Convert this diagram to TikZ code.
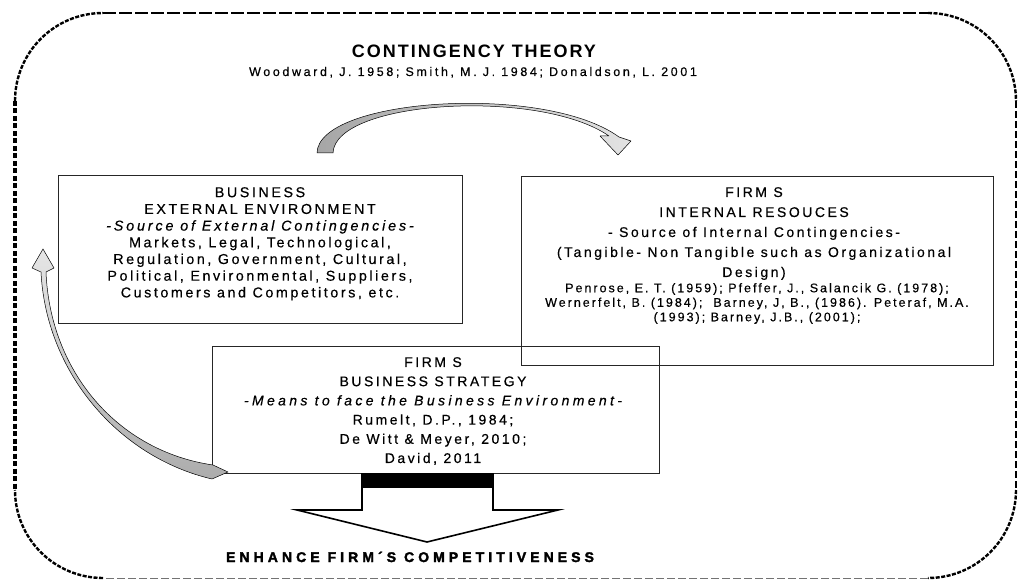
\documentclass[tikz,border=0pt]{standalone}
\usepackage{fontspec}
\setmainfont{Liberation Sans}
\newfontfamily\bxfont{Liberation Sans}[LetterSpace=18, FakeBold=0.4]
\newfontfamily\reffont{Liberation Sans}[LetterSpace=16, FakeBold=0.4]
\newfontfamily\titlefont{Liberation Sans}[LetterSpace=11]
\newfontfamily\goalfont{Liberation Sans}[LetterSpace=29, BoldFeatures={FakeBold=2.2}]
\begin{document}
\begin{tikzpicture}[x=1pt, y=-1pt,
  box/.style={draw=black!85, line width=0.9pt, inner sep=0pt, anchor=north west},
  boxtext/.style={inner sep=0pt, anchor=north, align=center},
  bend arrow/.style={draw=black, line width=0.5pt, line join=round},
  frame heavy/.style={line width=3.6pt, dash pattern=on 5pt off 2.5pt},
  frame top/.style={line width=2.4pt, dash pattern=on 13pt off 3pt},
  frame corner/.style={line width=2.4pt, dash pattern=on 4pt off 1.5pt},
  frame light/.style={line width=1.3pt, dash pattern=on 7pt off 3pt},
  frame faint/.style={line width=1pt, draw=black!55, dash pattern=on 8pt off 3pt},
]
\useasboundingbox (0,0) rectangle (1021,580);

% rounded dashed frame, each side with its own dash weight
\draw[frame corner] (15,101) .. controls (15,52.4) and (54.4,13) .. (103,13);
\draw[frame top] (103,13) -- (928,13);
\draw[frame corner] (928,13) .. controls (976.6,13) and (1016,52.4) .. (1016,101);
\draw[frame light] (1016,101) -- (1016,490);
\draw[frame corner] (1016,490) .. controls (1016,538.6) and (976.6,578) .. (928,578);
\draw[frame faint] (928,578) -- (103,578);
\draw[frame corner] (103,578) .. controls (54.4,578) and (15,538.6) .. (15,490);
\draw[frame heavy] (15,101) -- (15,490);

% heading
\node[inner sep=0pt, anchor=base] (title) at (474,58)
  {\titlefont\fontsize{18}{20}\selectfont\bfseries CONTINGENCY THEORY};
\node[inner sep=0pt, anchor=base] (authors) at (473,76)
  {\bxfont\addfontfeature{LetterSpace=21}\fontsize{12.5}{14}\selectfont Woodward, J. 1958; Smith, M. J. 1984; Donaldson, L. 2001};

% the three boxes
\node[box, minimum width=404pt, minimum height=148pt] (ext) at (58,175) {};
\node[box, minimum width=472pt, minimum height=189pt] (int) at (521,176) {};
\node[box, minimum width=447pt, minimum height=127pt] (str) at (212,346) {};

\node[boxtext, font=\bxfont\fontsize{14.3}{16.7}\selectfont] (exttext) at (260,187)
  {BUSINESS\\EXTERNAL ENVIRONMENT\\\itshape\addfontfeature{LetterSpace=20}-Source of External Contingencies-\\
   Markets, Legal, Technological,\\Regulation, Government, Cultural,\\
   Political, Environmental, Suppliers,\\Customers and Competitors, etc.};

\node[boxtext, font=\bxfont\fontsize{14}{20}\selectfont] (inttext) at (754,187)
  {FIRM S\\INTERNAL RESOUCES\\- Source of Internal Contingencies-\\
   (Tangible- Non Tangible such as Organizational\\Design)};
\node[boxtext, font=\reffont\fontsize{12.5}{14.5}\selectfont] (intrefs) at (757,283)
  {Penrose, E. T. (1959); Pfeffer, J., Salancik G. (1978);\\
   Wernerfelt, B. (1984); \ Barney, J, B., (1986). Peteraf, M.A.\\
   (1993); Barney, J.B., (2001);};

\node[boxtext, font=\bxfont\fontsize{14}{19.2}\selectfont] (strtext) at (433,357)
  {FIRM S\\BUSINESS STRATEGY\\\itshape\addfontfeature{LetterSpace=24}-Means to face the Business Environment-\\
   Rumelt, D.P., 1984;\\De Witt \& Meyer, 2010;\\David, 2011};

% curved block arrow: external environment -> internal resources
\path[bend arrow, left color=gray!70, right color=gray!22]
  (317,153) .. controls (318,98) and (545,83) .. (619,137)
  -- (631,141) -- (618,155) -- (600,136) -- (609,136)
  .. controls (540,88) and (335,100) .. (333,153) -- cycle;

% curved block arrow: business strategy -> external environment
\path[bend arrow, top color=gray!20, bottom color=gray!65]
  (228,472) -- (213,465) .. controls (117,451) and (50,371) .. (46,272)
  -- (54,268) -- (43,249) -- (32,268) -- (41,272)
  .. controls (46,372) and (118,457) .. (212,479) -- cycle;

% block arrow down to the outcome
\coordinate (shaftL) at (362,473);
\coordinate (shaftR) at (493,473);
\fill[black] (shaftL) rectangle (493,488);
\draw[line width=1.6pt, line join=miter]
  (shaftL) -- (362,510) -- (297,510) -- (427,542) -- (558,510) -- (493,510) -- (shaftR);

\node[inner sep=0pt, anchor=base] (goal) at (410,562)
  {\goalfont\bfseries\fontsize{14}{16}\selectfont ENHANCE FIRM´S COMPETITIVENESS};
\end{tikzpicture}
\end{document}
